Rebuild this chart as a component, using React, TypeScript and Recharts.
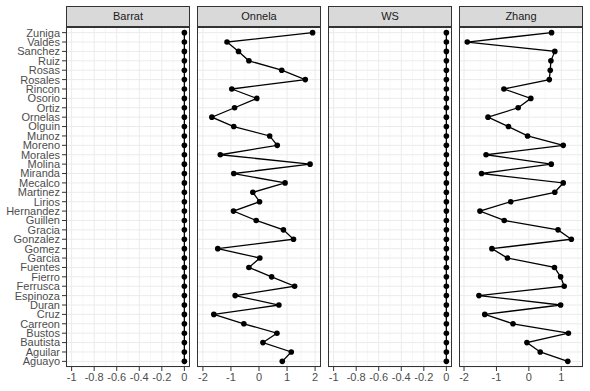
import { LineChart, Line, XAxis, YAxis, CartesianGrid, ReferenceLine } from 'recharts';

const names = [
  'Zuniga', 'Valdes', 'Sanchez', 'Ruiz', 'Rosas', 'Rosales', 'Rincon', 'Osorio', 'Ortiz',
  'Ornelas', 'Olguin', 'Munoz', 'Moreno', 'Morales', 'Molina', 'Miranda', 'Mecalco', 'Martinez',
  'Lirios', 'Hernandez', 'Guillen', 'Gracia', 'Gonzalez', 'Gomez', 'Garcia', 'Fuentes', 'Fierro',
  'Ferrusca', 'Espinoza', 'Duran', 'Cruz', 'Carreon', 'Bustos', 'Bautista', 'Aguilar', 'Aguayo',
];

const barrat = [
  0, 0, 0, 0, 0, 0, 0, 0, 0, 0, 0, 0, 0, 0, 0, 0, 0, 0,
  0, 0, 0, 0, 0, 0, 0, 0, 0, 0, 0, 0, 0, 0, 0, 0, 0, 0,
];

const onnela = [
  1.91, -1.14, -0.73, -0.36, 0.81, 1.65, -0.97, -0.08, -0.87,
  -1.68, -0.9, 0.38, 0.65, -1.38, 1.82, -0.9, 0.93, -0.22,
  0.02, -0.91, -0.1, 0.87, 1.23, -1.47, 0.03, -0.36, 0.45,
  1.27, -0.85, 0.71, -1.61, -0.54, 0.64, 0.14, 1.15, 0.83,
];

const ws = [
  0, 0, 0, 0, 0, 0, 0, 0, 0, 0, 0, 0, 0, 0, 0, 0, 0, 0,
  0, 0, 0, 0, 0, 0, 0, 0, 0, 0, 0, 0, 0, 0, 0, 0, 0, 0,
];

const zhang = [
  0.7, -1.9, 0.8, 0.68, 0.66, 0.63, -0.77, 0.06, -0.33,
  -1.26, -0.63, -0.04, 1.06, -1.32, 0.69, -1.46, 1.06, 0.8,
  -0.56, -1.51, -0.76, 0.9, 1.31, -1.14, -0.66, 0.79, 0.98,
  1.09, -1.54, 0.98, -1.36, -0.49, 1.22, -0.06, 0.35, 1.2,
];

const smallTicks = [-1, -0.8, -0.6, -0.4, -0.2, 0];
const smallMinor = [-0.9, -0.7, -0.5, -0.3, -0.1];
const wideTicks = [-2, -1, 0, 1, 2];
const onnelaMinor = [-1.5, -0.5, 0.5, 1.5];
const zhangTicks = [-2, -1, 0, 1];
const zhangMinor = [-1.5, -0.5, 0.5, 1.5];

const panels = [
  { title: 'Barrat', values: barrat, domain: [-1.05, 0.05], ticks: smallTicks, minor: smallMinor, left: 66 },
  { title: 'Onnela', values: onnela, domain: [-2.21, 2.21], ticks: wideTicks, minor: onnelaMinor, left: 197 },
  { title: 'WS', values: ws, domain: [-1.05, 0.05], ticks: smallTicks, minor: smallMinor, left: 328 },
  { title: 'Zhang', values: zhang, domain: [-2.155, 1.67], ticks: zhangTicks, minor: zhangMinor, left: 459 },
];

const PANEL_W = 124;
const PANEL_TOP = 27;
const PANEL_H = 340;
const STRIP_TOP = 6;
const Y_AXIS_W = 66;
const yTicks = names.map((_, i) => i + 1);
const font = '"Liberation Sans", Arial, sans-serif';

function Panel({ p, first }: { p: (typeof panels)[number]; first: boolean }) {
  const data = names.map((name, i) => ({ name, idx: i + 1, value: p.values[i] }));
  const yw = first ? Y_AXIS_W : 0;
  return (
    <>
      <div
        style={{
          position: 'absolute', left: p.left, top: STRIP_TOP, width: PANEL_W, height: PANEL_TOP - STRIP_TOP,
          boxSizing: 'border-box', border: '1px solid #333', background: '#D9D9D9',
          fontFamily: font, fontSize: 11, color: '#1A1A1A', textAlign: 'center', lineHeight: '19px',
        }}
      >
        {p.title}
      </div>
      <div style={{ position: 'absolute', left: p.left - yw, top: PANEL_TOP }}>
        <LineChart
          width={PANEL_W + yw}
          height={PANEL_H + 30}
          data={data}
          layout="vertical"
          margin={{ top: 0, right: 0, bottom: 0, left: 0 }}
        >
          <CartesianGrid stroke="#EBEBEB" strokeWidth={1} />
          {p.minor.map((m) => (
            <ReferenceLine key={m} x={m} stroke="#F2F2F2" strokeWidth={0.6} />
          ))}
          <XAxis
            type="number"
            dataKey="value"
            domain={p.domain}
            ticks={p.ticks}
            allowDataOverflow
            height={30}
            axisLine={false}
            tickLine={{ stroke: '#333' }}
            tickSize={4}
            tickMargin={2}
            interval={0}
            tick={{ fill: '#4D4D4D', fontSize: 11, fontFamily: font }}
          />
          <YAxis
            type="number"
            dataKey="idx"
            domain={[0.4, 36.6]}
            ticks={yTicks}
            interval={0}
            hide={!first}
            width={Y_AXIS_W}
            axisLine={false}
            tickLine={{ stroke: '#333' }}
            tickSize={4}
            tickMargin={2}
            tickFormatter={(v: number) => names[v - 1]}
            tick={{ fill: '#4D4D4D', fontSize: 11, fontFamily: font }}
          />
          <Line
            dataKey="value"
            stroke="#000"
            strokeWidth={1.3}
            dot={{ r: 2.8, fill: '#000', stroke: '#000', strokeWidth: 0 }}
            isAnimationActive={false}
          />
        </LineChart>
      </div>
      <div
        style={{
          position: 'absolute', left: p.left, top: PANEL_TOP, width: PANEL_W, height: PANEL_H,
          boxSizing: 'border-box', border: '1px solid #333', pointerEvents: 'none',
        }}
      />
    </>
  );
}

export default function App() {
  return (
    <div style={{ position: 'absolute', left: 0, top: 0, width: 590, height: 391, background: '#fff' }}>
      {panels.map((p, i) => (
        <Panel key={p.title} p={p} first={i === 0} />
      ))}
    </div>
  );
}
